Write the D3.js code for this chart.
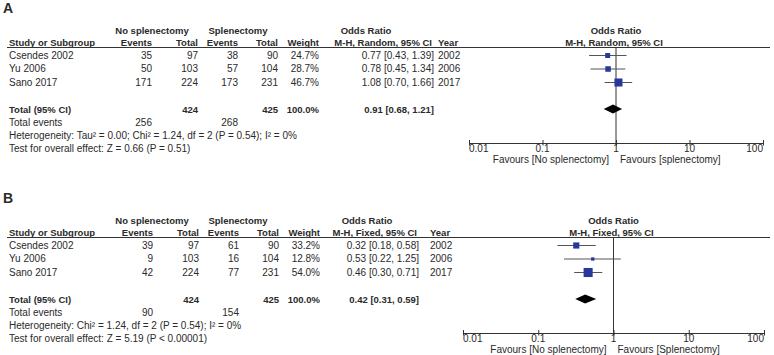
<!DOCTYPE html>
<html>
<head>
<meta charset="utf-8">
<script src="https://cdn.jsdelivr.net/npm/d3@7"></script>
<style>
  body { margin: 0; background: #fff; }
  svg { display: block; font-family: "Liberation Sans", Arial, sans-serif; }
  text { fill: #2a2a2a; font-size: 10px; }
  .b { font-weight: bold; font-size: 9.5px; }
</style>
</head>
<body>
<div id="chart"></div>
<script>
// shared
const studies = ["Csendes 2002", "Yu 2006", "Sano 2017"];
const years = [2002, 2006, 2017];
const totalNo = [97, 103, 224];
const totalSp = [90, 104, 231];
const axisTicks = [0.01, 0.1, 1, 10, 100];
const totalWeight = "100.0%";

// panel A (random effects)
const eventsNoA = [35, 50, 171];
const eventsSpA = [38, 57, 173];
const weightA = [24.7, 28.7, 46.7];
const orA = [0.77, 0.78, 1.08];
const loA = [0.43, 0.45, 0.70];
const hiA = [1.39, 1.34, 1.66];
const pooledA = [0.91, 0.68, 1.21];
const sumEventsA = [256, 268];

// panel B (fixed effects)
const eventsNoB = [39, 9, 42];
const eventsSpB = [61, 16, 77];
const weightB = [33.2, 12.8, 54.0];
const orB = [0.32, 0.53, 0.46];
const loB = [0.18, 0.22, 0.30];
const hiB = [0.58, 1.25, 0.71];
const pooledB = [0.42, 0.31, 0.59];
const sumEventsB = [90, 154];

const W = 774, H = 355;
const svg = d3.select("#chart").append("svg").attr("width", W).attr("height", H);

const sizeScale = d3.scaleLinear().domain([0, 100]).range([1.5, 15.5]);

function drawPanel(p) {
    const g = svg.append("g").attr("transform", `translate(0,${p.top})`);
    const txt = (x, y, s, anchor, bold) => g.append("text")
        .attr("x", x).attr("y", y + 3.5).attr("text-anchor", anchor || "start")
        .attr("class", bold ? "b" : null).text(s);

    g.append("text").attr("x", 3).attr("y", 13).attr("class", "b")
        .style("font-size", "14px").text(p.label);

    // table headers
    txt(152, 30, "No splenectomy", "middle", true);
    txt(238, 30, "Splenectomy", "middle", true);
    txt(p.orHead, 30, "Odds Ratio", "middle", true);
    txt(9, 42, "Study or Subgroup", "start", true);
    txt(p.ev1, 42, "Events", "end", true);
    txt(p.tot1, 42, "Total", "end", true);
    txt(p.ev2, 42, "Events", "end", true);
    txt(p.tot2, 42, "Total", "end", true);
    txt(p.wt, 42, "Weight", "end", true);
    txt(p.orR - 2, 42, p.method, "end", true);
    txt(p.yearX, 42, "Year", "start", true);

    const x = d3.scaleLog().domain([0.01, 100]).range([p.x0, p.x1]);
    const mid = (p.x0 + p.x1) / 2;
    txt(mid, 30, "Odds Ratio", "middle", true);
    txt(mid - 2, 42, p.method, "middle", true);

    g.append("line").attr("x1", 7).attr("x2", 770).attr("y1", 47.5).attr("y2", 47.5)
        .attr("stroke", "#333").attr("stroke-width", 1);

    const rowY = d3.scalePoint().domain(studies).range([55, 82]);

    studies.forEach((s, i) => {
        const y = rowY(s);
        txt(9, y, s);
        txt(p.ev1, y, p.evNo[i], "end");
        txt(p.tot1, y, totalNo[i], "end");
        txt(p.ev2, y, p.evSp[i], "end");
        txt(p.tot2, y, totalSp[i], "end");
        txt(p.wt, y, p.weight[i].toFixed(1) + "%", "end");
        txt(p.orR, y, `${p.or[i].toFixed(2)} [${p.lo[i].toFixed(2)}, ${p.hi[i].toFixed(2)}]`, "end");
        txt(p.yearX, y, years[i]);
    });

    // totals
    const ty = 109;
    txt(9, ty, "Total (95% CI)", "start", true);
    txt(p.tot1, ty, d3.sum(totalNo), "end", true);
    txt(p.tot2, ty, d3.sum(totalSp), "end", true);
    txt(p.wt, ty, totalWeight, "end", true);
    txt(p.orR, ty, `${p.pooled[0].toFixed(2)} [${p.pooled[1].toFixed(2)}, ${p.pooled[2].toFixed(2)}]`, "end", true);
    txt(9, 122, "Total events");
    txt(p.ev1, 122, p.sumEv[0], "end");
    txt(p.ev2, 122, p.sumEv[1], "end");
    txt(9, 135, p.het);
    txt(9, 148, p.test);

    // forest plot
    const axisY = 143;
    g.append("line").attr("x1", x(1)).attr("x2", x(1)).attr("y1", 48).attr("y2", axisY)
        .attr("stroke", "#333");

    studies.forEach((s, i) => {
        const y = rowY(s);
        g.append("line").attr("x1", x(p.lo[i])).attr("x2", x(p.hi[i]))
            .attr("y1", y + 0.5).attr("y2", y + 0.5).attr("stroke", "#555");
        const sz = sizeScale(p.weight[i]);
        g.append("rect").attr("x", x(p.or[i]) - sz / 2).attr("y", y + 0.5 - sz / 2)
            .attr("width", sz).attr("height", sz).attr("fill", "#26389a");
    });

    g.append("path")
        .attr("d", `M${x(p.pooled[1])},${ty} L${x(p.pooled[0])},${ty - 4.5} L${x(p.pooled[2])},${ty} L${x(p.pooled[0])},${ty + 4.5}Z`)
        .attr("fill", "#000");

    g.append("line").attr("x1", p.x0).attr("x2", p.x1).attr("y1", axisY + 0.5).attr("y2", axisY + 0.5)
        .attr("stroke", "#333");
    axisTicks.forEach((t, i) => {
        g.append("line").attr("x1", x(t) + 0.5).attr("x2", x(t) + 0.5)
            .attr("y1", axisY - 3).attr("y2", axisY + 2.5).attr("stroke", "#333");
        const anchor = i === 0 ? "start" : i === axisTicks.length - 1 ? "end" : "middle";
        txt(x(t), axisY + 5, String(t), anchor);
    });
    txt(x(1) - 7, axisY + 16.3, p.favL, "end");
    txt(x(1) + 4, axisY + 16.3, p.favR, "start");
}

drawPanel({
    label: "A", top: 0, method: "M-H, Random, 95% CI",
    ev1: 152, tot1: 198, ev2: 238, tot2: 278, wt: 319, orR: 434, orHead: 366, yearX: 438,
    x0: 469, x1: 763,
    evNo: eventsNoA, evSp: eventsSpA, weight: weightA, or: orA, lo: loA, hi: hiA,
    pooled: pooledA, sumEv: sumEventsA,
    het: "Heterogeneity: Tau² = 0.00; Chi² = 1.24, df = 2 (P = 0.54); I² = 0%",
    test: "Test for overall effect: Z = 0.66 (P = 0.51)",
    favL: "Favours [No splenectomy]", favR: "Favours [splenectomy]"
});

drawPanel({
    label: "B", top: 190, method: "M-H, Fixed, 95% CI",
    ev1: 153, tot1: 199, ev2: 239, tot2: 279, wt: 320, orR: 419, orHead: 367, yearX: 430,
    x0: 463, x1: 764,
    evNo: eventsNoB, evSp: eventsSpB, weight: weightB, or: orB, lo: loB, hi: hiB,
    pooled: pooledB, sumEv: sumEventsB,
    het: "Heterogeneity: Chi² = 1.24, df = 2 (P = 0.54); I² = 0%",
    test: "Test for overall effect: Z = 5.19 (P < 0.00001)",
    favL: "Favours [No splenectomy]", favR: "Favours [Splenectomy]"
});
</script>
</body>
</html>
